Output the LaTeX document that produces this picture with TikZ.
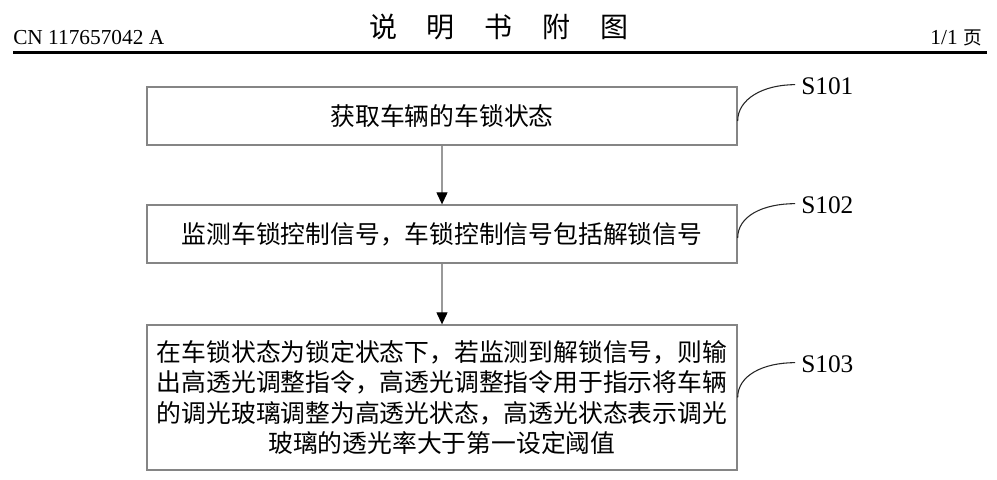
\documentclass[tikz,border=0pt]{standalone}
\usepackage{fontspec}
\setmainfont{Liberation Serif}
\newfontfamily\cjk{Noto Sans CJK SC}
\usetikzlibrary{arrows.meta}
\definecolor{boxgray}{gray}{0.52}
\definecolor{linegray}{gray}{0.6}
\begin{document}
\begin{tikzpicture}[x=0.75pt,y=-0.75pt,
  stepbox/.style={draw=boxgray,line width=1pt,minimum width=442.5pt,inner sep=0pt,align=center,font=\cjk\fontsize{18.6}{22.9}\selectfont,text=black},
  flow/.style={draw=linegray,line width=0.9pt,-{Triangle[width=8.25pt,length=9pt,color=black,fill=black]}},
  tag/.style={font=\fontsize{19}{22}\selectfont,anchor=west,inner sep=0pt},
  leader/.style={draw=black!85,line width=0.8pt},
  headtxt/.style={inner sep=0pt,font=\fontsize{16}{18}\selectfont}]
\fill[white] (0,0) rectangle (997,479);
\useasboundingbox (0,0) rectangle (997,479);

% header
\node[headtxt,anchor=base west] (cn) at (13,44) {CN 117657042 A};
\node[inner sep=0pt,font=\cjk\fontsize{21}{24}\selectfont] (title) at (499,27) {说\hspace{22.5pt}明\hspace{22.5pt}书\hspace{22.5pt}附\hspace{22.5pt}图};
\node[headtxt,anchor=base east] (pg) at (982,44) {1/1 {\cjk\fontsize{14}{16}\selectfont 页}};
\draw[line width=1.9pt] (13,52.5) -- (987,52.5);

% boxes
\node[stepbox,minimum height=43.5pt] (b1) at (442,116) {获取车辆的车锁状态};
\node[stepbox,minimum height=43.5pt] (b2) at (442,234) {监测车锁控制信号，车锁控制信号包括解锁信号};
\node[stepbox,minimum height=108.75pt] (b3) at (442,397.5) {在车锁状态为锁定状态下，若监测到解锁信号，则输\\出高透光调整指令，高透光调整指令用于指示将车辆\\的调光玻璃调整为高透光状态，高透光状态表示调光\\玻璃的透光率大于第一设定阈值};

% arrows
\draw[flow] (b1.south) -- (b2.north);
\draw[flow] (b2.south) -- (b3.north);

% labels
\node[tag] (l1) at (801,86) {S101};
\node[tag] (l2) at (801,205) {S102};
\node[tag] (l3) at (801,364) {S103};

\draw[leader] ([yshift=-3.75pt]b1.east) .. controls +(0,-22) and +(-32,0) .. ([xshift=-4.5pt,yshift=1pt]l1.west);
\draw[leader] ([yshift=-3pt]b2.east) .. controls +(0,-22) and +(-32,0) .. ([xshift=-4.5pt,yshift=1pt]l2.west);
\draw[leader] ([yshift=0pt]b3.east) .. controls +(0,-22) and +(-32,0) .. ([xshift=-4.5pt,yshift=1pt]l3.west);
\end{tikzpicture}
\end{document}
